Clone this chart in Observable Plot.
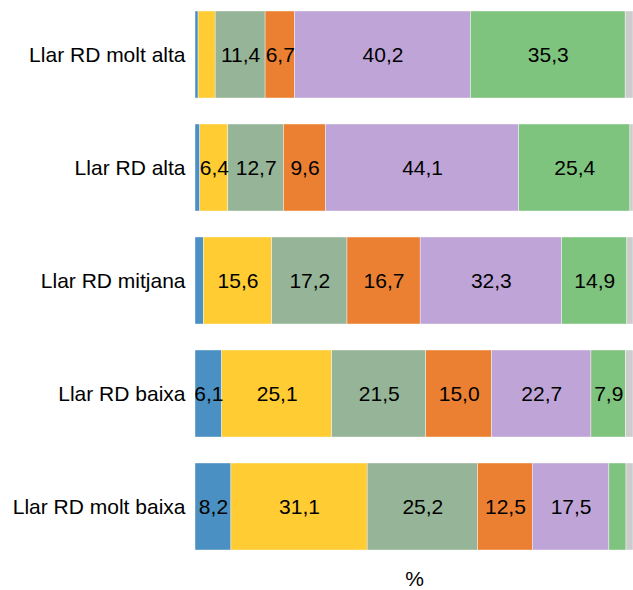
<!DOCTYPE html>
<html>
<head>
<meta charset="utf-8">
<script src="https://cdn.jsdelivr.net/npm/d3@7"></script>
<script src="https://cdn.jsdelivr.net/npm/@observablehq/plot@0.6"></script>
<style>
  html, body { margin: 0; padding: 0; background: #fff; }
  #chart svg { display: block; }
</style>
</head>
<body>
<div id="chart"></div>
<script>
const categories = ["Llar RD molt alta", "Llar RD alta", "Llar RD mitjana", "Llar RD baixa", "Llar RD molt baixa"];
const seriesNames = ["S1", "S2", "S3", "S4", "S5", "S6", "S7"];
const seriesColors = ["#4A90C2", "#FFCC33", "#96B497", "#EB8033", "#BFA5D7", "#7EC47E", "#CCCCCC"];
// values per category, in series order
const vMoltAlta  = [0.7, 3.9, 11.4, 6.7, 40.2, 35.3, 1.8];
const vAlta      = [1.1, 6.4, 12.7, 9.6, 44.1, 25.4, 0.7];
const vMitjana   = [1.9, 15.6, 17.2, 16.7, 32.3, 14.9, 1.4];
const vBaixa     = [6.1, 25.1, 21.5, 15.0, 22.7, 7.9, 1.7];
const vMoltBaixa = [8.2, 31.1, 25.2, 12.5, 17.5, 3.9, 1.6];
const allValues = [vMoltAlta, vAlta, vMitjana, vBaixa, vMoltBaixa];

const data = [];
categories.forEach((c, i) => {
  seriesNames.forEach((s, j) => {
    data.push({cat: c, series: s, value: allValues[i][j]});
  });
});

const fmt = d => d.toFixed(1).replace(".", ",");

const chart = Plot.plot({
  width: 633,
  height: 590,
  marginLeft: 195,
  marginRight: 0,
  marginTop: 0,
  marginBottom: 29,
  style: {fontFamily: "Liberation Sans, Arial, sans-serif", fontSize: "21px", color: "#000"},
  x: {domain: [0, 100]},
  y: {domain: categories, paddingInner: 0.23, paddingOuter: 0.088},
  color: {domain: seriesNames, range: seriesColors},
  marks: [
    Plot.barX(data, {x: "value", y: "cat", fill: "series", stroke: "white", strokeWidth: 0.4, order: null}),
    Plot.text(data, Plot.stackX({
      x: "value", y: "cat", z: "series", order: null,
      text: d => d.value >= 5 ? fmt(d.value) : "",
      fill: "black", fontSize: 21
    })),
    Plot.axisY({tickSize: 0, tickPadding: 10, label: null, fontSize: 21}),
    Plot.axisX({ticks: [], tickSize: 0, label: "%", labelAnchor: "center", labelArrow: "none", labelOffset: 24, fontSize: 21})
  ]
});
document.getElementById("chart").appendChild(chart);
</script>
</body>
</html>
